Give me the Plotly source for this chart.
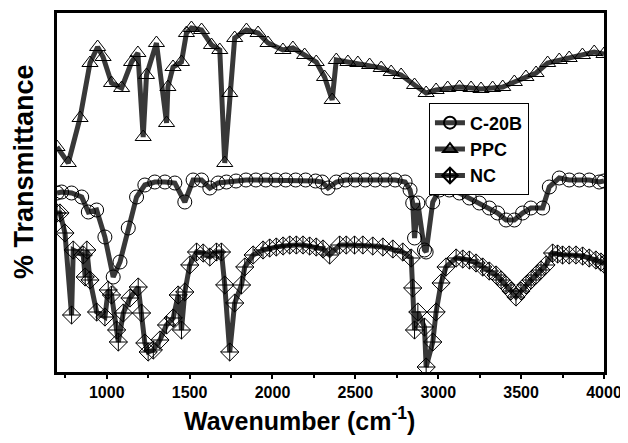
import plotly.graph_objects as go

# Wavenumber (cm^-1) and transmittance (arbitrary units)
ppc_x = [700, 768, 839, 899, 945, 978, 1029, 1090, 1150, 1188, 1220, 1240, 1300, 1361, 1369, 1400,
         1451, 1481, 1511, 1572, 1632, 1682, 1712, 1742, 1772, 1843, 1913, 1973, 2063, 2123, 2194,
         2264, 2314, 2360, 2385, 2455, 2515, 2586, 2656, 2716, 2776, 2857, 2927, 2987, 3057, 3128,
         3198, 3258, 3328, 3389, 3459, 3529, 3590, 3660, 3730, 3790, 3870, 3941, 4000]
ppc_y = [225, 209, 254, 309, 325, 315, 289, 284, 310, 319, 235, 297, 329, 249, 285, 305,
         310, 339, 344, 342, 327, 322, 209, 279, 334, 342, 339, 329, 322, 324, 317,
         310, 295, 272, 312, 310, 309, 307, 304, 300, 297, 287, 279, 282, 284, 285,
         284, 283, 284, 285, 290, 295, 299, 309, 312, 314, 317, 320, 318]

c20b_x = [700, 728, 788, 849, 889, 939, 989, 1039, 1080, 1130, 1180, 1230, 1290, 1351, 1411, 1471,
          1521, 1572, 1622, 1672, 1722, 1780, 1840, 1900, 1960, 2020, 2080, 2140, 2200, 2260, 2300,
          2335, 2385, 2440, 2500, 2560, 2620, 2680, 2740, 2800, 2830, 2846, 2857, 2877, 2917, 2927,
          2967, 3007, 3067, 3128, 3188, 3248, 3308, 3358, 3409, 3459, 3509, 3559, 3630, 3670, 3730,
          3790, 3851, 3911, 3971, 4000]
c20b_y = [179, 180, 179, 175, 160, 162, 135, 95, 110, 144, 175, 187, 190, 190, 189, 170,
          192, 192, 184, 189, 190, 191, 192, 192, 192, 192, 192, 192, 192, 191, 190,
          184, 190, 192, 192, 192, 192, 192, 192, 190, 182, 169, 134, 169, 122, 120,
          170, 182, 182, 179, 174, 169, 164, 159, 152, 152, 159, 164, 164, 185, 194,
          192, 192, 192, 190, 191]

nc_x = [700, 718, 748, 788, 798, 858, 870, 880, 899, 939, 989, 1009, 1029, 1060, 1070, 1100, 1140,
        1190, 1210, 1230, 1250, 1281, 1321, 1361, 1401, 1431, 1451, 1471, 1501, 1542, 1582, 1622,
        1662, 1692, 1712, 1742, 1772, 1813, 1833, 1883, 1943, 1983, 2023, 2064, 2104, 2144, 2184,
        2224, 2264, 2305, 2345, 2405, 2445, 2495, 2545, 2605, 2666, 2726, 2786, 2837, 2846, 2857,
        2877, 2917, 2927, 2967, 2987, 3017, 3047, 3108, 3148, 3188, 3228, 3268, 3308, 3349, 3379,
        3409, 3439, 3469, 3499, 3529, 3560, 3590, 3620, 3650, 3690, 3720, 3750, 3790, 3831, 3871,
        3911, 3951, 3981, 4000]
nc_y = [159, 159, 139, 57, 122, 117, 95, 122, 92, 60, 55, 82, 77, 42, 30, 59, 74,
        85, 59, 29, 20, 22, 32, 47, 54, 77, 42, 80, 107, 120, 119, 115,
        120, 120, 87, 20, 69, 87, 105, 117, 122, 124, 125, 126, 127, 127, 127,
        126, 125, 123, 117, 127, 127, 127, 127, 126, 125, 123, 120, 114, 84, 42,
        60, 45, 5, 30, 60, 89, 105, 114, 113, 112, 109, 105, 101, 97, 92,
        87, 81, 75, 81, 87, 92, 97, 102, 107, 119, 118, 117, 117, 117, 116,
        114, 112, 110, 108]

names = ["C-20B", "PPC", "NC"]
symbols = ["circle-open", "triangle-up-open", "diamond-cross-open"]
series = [(c20b_x, c20b_y), (ppc_x, ppc_y), (nc_x, nc_y)]
tick_vals = [1000, 1500, 2000, 2500, 3000, 3500, 4000]
x_title = "Wavenumber (cm<sup>-1</sup>)"
y_title = "% Transmittance"

fig = go.Figure()
for (xs, ys), nm, sym in zip(series, names, symbols):
    fig.add_trace(go.Scatter(
        x=xs, y=ys, name=nm, mode="lines+markers",
        line=dict(color="#383838", width=5),
        marker=dict(symbol=sym, size=14, color="black", line=dict(width=1, color="black")),
    ))

font_family = "Liberation Sans, Arial, sans-serif"
fig.update_layout(
    width=620, height=435,
    margin=dict(l=49, r=24, t=5, b=71, autoexpand=False),
    paper_bgcolor="white", plot_bgcolor="white",
    font=dict(family=font_family, color="black"),
    showlegend=True,
    legend=dict(
        x=0.68, y=0.748, xanchor="left", yanchor="top",
        bordercolor="black", borderwidth=1, bgcolor="white",
        font=dict(size=18, weight="bold", family=font_family),
        tracegroupgap=0, itemsizing="constant",
    ),
    xaxis=dict(
        range=[700, 4000], tickvals=tick_vals, automargin=False,
        ticks="outside", ticklen=4, tickwidth=2, tickcolor="black",
        minor=dict(tickvals=[750, 1250, 1750, 2250, 2750, 3250, 3750], ticks="outside", ticklen=3, tickwidth=2, tickcolor="black"),
        showline=True, linewidth=3, linecolor="black", mirror=True,
        showgrid=False, zeroline=False,
        tickfont=dict(size=16, weight="bold", family=font_family),
    ),
    yaxis=dict(
        range=[0, 359], showticklabels=False, ticks="", automargin=False,
        showline=True, linewidth=3, linecolor="black", mirror=True,
        showgrid=False, zeroline=False,
    ),
    annotations=[
        dict(text=x_title, xref="paper", yref="paper", x=0.444, y=-0.131,
             xanchor="center", yanchor="middle", showarrow=False,
             font=dict(size=25, weight="bold", family=font_family)),
        dict(text=y_title, xref="paper", yref="paper", x=-0.0603, y=0.557,
             xanchor="center", yanchor="middle", showarrow=False, textangle=-90,
             font=dict(size=27, weight="bold", family=font_family)),
    ],
)

fig.write_html("out.html")
